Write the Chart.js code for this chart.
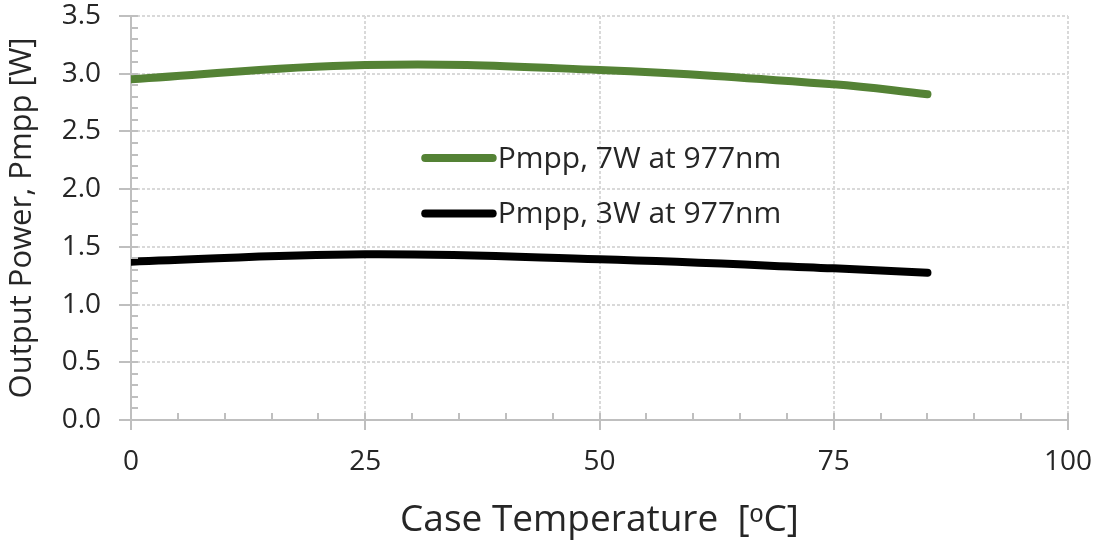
<!DOCTYPE html>
<html>
<head>
<meta charset="utf-8">
<script src="https://cdn.jsdelivr.net/npm/chart.js@4.4.0/dist/chart.umd.min.js"></script>
<style>
  html, body { margin: 0; padding: 0; background: #fff; }
  #wrap { width: 1098px; height: 550px; }
</style>
</head>
<body>
<div id="wrap"><canvas id="chart" width="1098" height="550"></canvas></div>
<script>
// values
const temps = [0, 25, 50, 75, 85];
const pmpp7W = [2.952, 3.076, 3.032, 2.908, 2.822];
const pmpp3W = [1.372, 1.435, 1.392, 1.314, 1.276];
const seriesLabels = ["Pmpp, 7W at 977nm", "Pmpp, 3W at 977nm"];
const seriesColors = ["#548235", "#000000"];
const xTicks = [0, 25, 50, 75, 100];
const yTicks = [0, 0.5, 1, 1.5, 2, 2.5, 3, 3.5];

const FONT = "'Open Sans', sans-serif";
const AXIS_GREY = "#bfbfbf";
const GRID_GREY = "#d9d9d9";
const TEXT = "#262626";

// small inner ticks between the labelled ones
const minorTicks = {
  id: "minorTicks",
  afterDraw(chart) {
    const { ctx, chartArea, scales } = chart;
    ctx.save();
    ctx.strokeStyle = AXIS_GREY;
    ctx.lineWidth = 2;
    ctx.beginPath();
    for (let v = 0; v <= 100; v += 5) {
      const px = Math.round(scales.x.getPixelForValue(v));
      ctx.moveTo(px, chartArea.bottom);
      ctx.lineTo(px, chartArea.bottom - 7);
    }
    for (let i = 0; i <= 35; i++) {
      const py = Math.round(scales.y.getPixelForValue(i / 10));
      ctx.moveTo(chartArea.left, py);
      ctx.lineTo(chartArea.left + 7, py);
    }
    ctx.stroke();
    ctx.restore();
  },
};

// legend sits inside the plot, line sample then text
const insideLegend = {
  id: "insideLegend",
  afterDraw(chart) {
    const { ctx, scales } = chart;
    const x0 = scales.x.getPixelForValue(31.4);
    const x1 = scales.x.getPixelForValue(38.6);
    const rows = [scales.y.getPixelForValue(2.27), scales.y.getPixelForValue(1.79)];
    ctx.save();
    ctx.font = "30px " + FONT;
    ctx.textBaseline = "middle";
    ctx.lineCap = "round";
    chart.data.datasets.forEach((ds, i) => {
      ctx.strokeStyle = ds.borderColor;
      ctx.lineWidth = 8;
      ctx.beginPath();
      ctx.moveTo(x0, rows[i]);
      ctx.lineTo(x1, rows[i]);
      ctx.stroke();
      ctx.fillStyle = TEXT;
      ctx.fillText(ds.label, x1 + 5, rows[i] + 1);
    });
    ctx.restore();
  },
};

new Chart(document.getElementById("chart"), {
  type: "line",
  data: {
    datasets: [
      {
        label: seriesLabels[0],
        data: temps.map((t, i) => ({ x: t, y: pmpp7W[i] })),
        borderColor: seriesColors[0],
        borderWidth: 8,
        pointRadius: 0,
        tension: 0.4,
        borderCapStyle: "round",
      },
      {
        label: seriesLabels[1],
        data: temps.map((t, i) => ({ x: t, y: pmpp3W[i] })),
        borderColor: seriesColors[1],
        borderWidth: 8,
        pointRadius: 0,
        tension: 0.4,
        borderCapStyle: "round",
      },
    ],
  },
  options: {
    responsive: false,
    animation: false,
    layout: { padding: 0 },
    plugins: { legend: { display: false }, tooltip: { enabled: false } },
    scales: {
      x: {
        type: "linear",
        min: 0,
        max: 100,
        afterBuildTicks: (scale) => {
          scale.ticks = xTicks.map((v) => ({ value: v }));
        },
        afterFit: (scale) => {
          scale.height = 130;
          scale.paddingLeft = 0;
          scale.paddingRight = 30;
        },
        ticks: {
          font: { family: FONT, size: 28 },
          color: TEXT,
          padding: 15,
        },
        grid: {
          color: GRID_GREY,
          lineWidth: 2,
          tickLength: 10,
          tickColor: AXIS_GREY,
          tickWidth: 2,
        },
        border: { color: AXIS_GREY, width: 2, dash: [3, 2] },
        title: {
          display: true,
          text: "Case Temperature  [ᵒC]",
          font: { family: FONT, size: 37 },
          color: TEXT,
          padding: { top: 0, bottom: 7 },
        },
      },
      y: {
        min: 0,
        max: 3.5,
        afterBuildTicks: (scale) => {
          scale.ticks = yTicks.map((v) => ({ value: v }));
        },
        afterFit: (scale) => {
          scale.width = 131;
          scale.paddingTop = 16;
          scale.paddingBottom = 0;
        },
        ticks: {
          font: { family: FONT, size: 28 },
          color: TEXT,
          padding: 18,
          callback: (v) => v.toFixed(1),
        },
        grid: {
          color: GRID_GREY,
          lineWidth: 2,
          tickLength: 12,
          tickColor: AXIS_GREY,
          tickWidth: 2,
        },
        border: { color: AXIS_GREY, width: 2, dash: [3, 2] },
        title: {
          display: true,
          text: "Output Power, Pmpp [W]",
          font: { family: FONT, size: 31 },
          color: TEXT,
          padding: { top: 4, bottom: 0 },
        },
      },
    },
  },
  plugins: [minorTicks, insideLegend],
});
</script>
</body>
</html>
